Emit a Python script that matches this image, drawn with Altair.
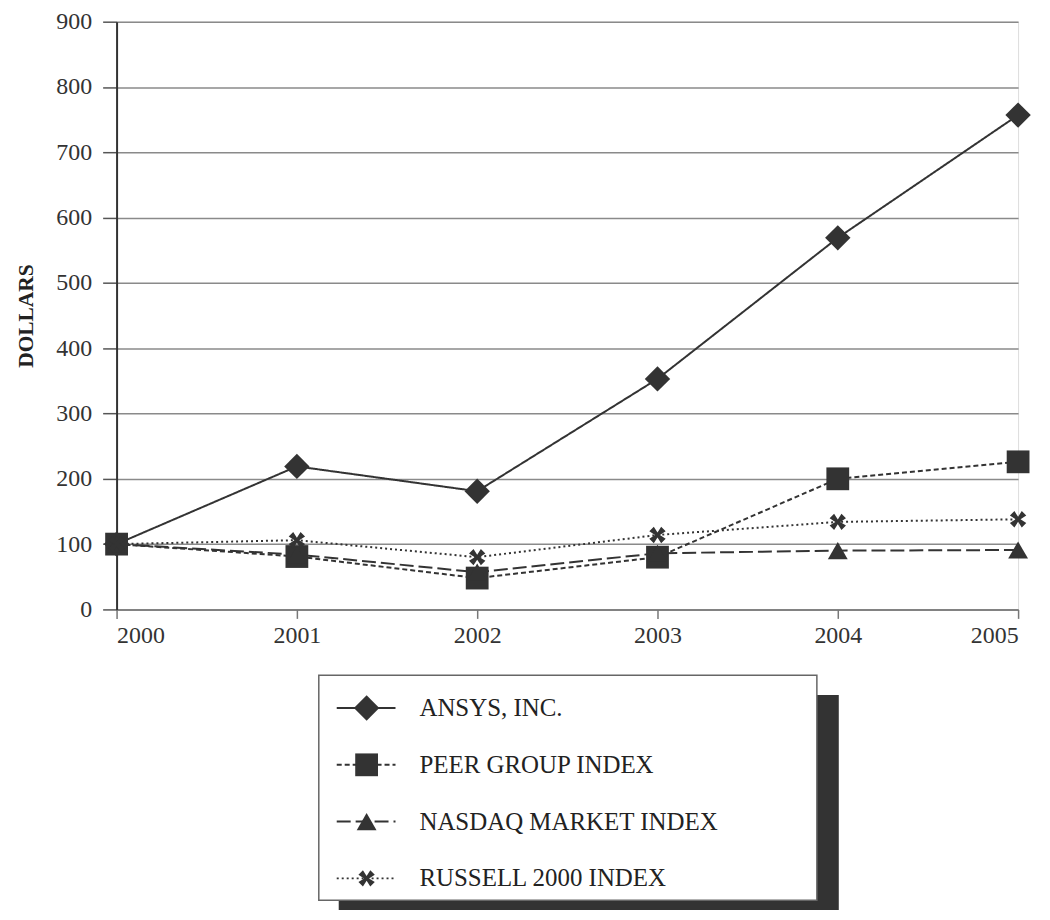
import altair as alt
import pandas as pd

years = [2000, 2001, 2002, 2003, 2004, 2005]
series_names = ["ANSYS, INC.", "PEER GROUP INDEX", "NASDAQ MARKET INDEX", "RUSSELL 2000 INDEX"]
ansys = [100, 219, 181, 353, 569, 757]
peer = [100, 81, 48, 80, 200, 226]
nasdaq = [100, 84, 57, 86, 90, 91]
russell = [100, 106, 80, 114, 134, 138]
y_ticks = [0, 100, 200, 300, 400, 500, 600, 700, 800, 900]

x_path = ("M -1 -0.45 L -0.45 -1 L 0 -0.3 L 0.45 -1 L 1 -0.45 L 0.3 0 "
          "L 1 0.45 L 0.45 1 L 0 0.3 L -0.45 1 L -1 0.45 L -0.3 0 Z")

rows = []
for name, vals in zip(series_names, [ansys, peer, nasdaq, russell]):
    for yr, v in zip(years, vals):
        rows.append({"year": yr, "value": v, "series": name})
df = pd.DataFrame(rows)
leg_df = pd.DataFrame({"series": series_names, "row": list(range(len(series_names)))})

FONT = "Liberation Serif, Times New Roman, serif"
INK = "#333333"

dash_scale = alt.Scale(domain=series_names, range=[[1, 0], [5, 3], [14, 5], [2, 3]])
shape_scale = alt.Scale(domain=series_names, range=["diamond", "square", "triangle-up", x_path])
size_scale = alt.Scale(domain=series_names, range=[650, 270, 260, 340])

x_enc = alt.X("year:Q", scale=alt.Scale(domain=[2000, 2005], nice=False),
              axis=alt.Axis(values=years, format="d", title=None, grid=False,
                            tickSize=9, tickColor="#777", tickWidth=1.5,
                            domainColor="#777", domainWidth=1.5,
                            labelFont=FONT, labelFontSize=24, labelColor=INK,
                            labelPadding=5))
y_enc = alt.Y("value:Q", scale=alt.Scale(domain=[0, 900], nice=False),
              axis=alt.Axis(values=y_ticks, title="DOLLARS", grid=True,
                            gridColor="#8a8a8a", gridWidth=1.5,
                            tickSize=14, tickColor="#555", tickWidth=1.5,
                            domainColor="#333", domainWidth=2,
                            labelFont=FONT, labelFontSize=24, labelColor=INK,
                            labelPadding=11,
                            titleFont=FONT, titleFontSize=21.5, titleFontWeight="bold",
                            titleColor="#222", titlePadding=18))

lines = alt.Chart(df).mark_line(color=INK, strokeWidth=2).encode(
    x=x_enc, y=y_enc,
    strokeDash=alt.StrokeDash("series:N", scale=dash_scale, legend=None),
    detail="series:N",
)
points = alt.Chart(df).mark_point(filled=True, color=INK, opacity=1).encode(
    x="year:Q", y="value:Q",
    shape=alt.Shape("series:N", scale=shape_scale, legend=None),
    size=alt.Size("series:N", scale=size_scale, legend=None),
)
plot = alt.layer(lines, points)

# Legend box (drawn manually); offsets relative to plot top-left
TOP = 12
one = pd.DataFrame({"k": [0]})
shadow = alt.Chart(one).mark_rect(color=INK).encode(
    x=alt.value(223), x2=alt.value(725), y=alt.value(688 - TOP), y2=alt.value(916 - TOP))
box = alt.Chart(one).mark_rect(fill="white", stroke="#666", strokeWidth=1.5).encode(
    x=alt.value(203), x2=alt.value(703), y=alt.value(668 - TOP), y2=alt.value(894 - TOP))

leg_y = alt.Y("row:Q", axis=None,
              scale=alt.Scale(domain=[0, 3], range=[701 - TOP, 872 - TOP], nice=False, zero=False))
leg_rules = alt.Chart(leg_df).mark_rule(color=INK, strokeWidth=2).encode(
    x=alt.value(221), x2=alt.value(280), y=leg_y,
    strokeDash=alt.StrokeDash("series:N", scale=dash_scale, legend=None),
)
leg_points = alt.Chart(leg_df).mark_point(filled=True, color=INK, opacity=1).encode(
    x=alt.value(251), y=leg_y,
    shape=alt.Shape("series:N", scale=shape_scale, legend=None),
    size=alt.Size("series:N", scale=size_scale, legend=None),
)
leg_text = alt.Chart(leg_df).mark_text(align="left", baseline="middle", font=FONT,
                                       fontSize=25, color="#222").encode(
    x=alt.value(304), y=leg_y, text="series:N")
legend = alt.layer(shadow, box, leg_rules, leg_points, leg_text)

chart = alt.layer(plot, legend).resolve_scale(y="independent").properties(
    width=905, height=590,
    autosize=alt.AutoSizeParams(type="none"),
    padding={"left": 109, "top": TOP, "right": 24, "bottom": 300},
).configure_view(stroke="#8a8a8a", strokeWidth=1.5).configure(background="white")

chart.save("out.html", embed_options={"renderer": "svg", "actions": False})
